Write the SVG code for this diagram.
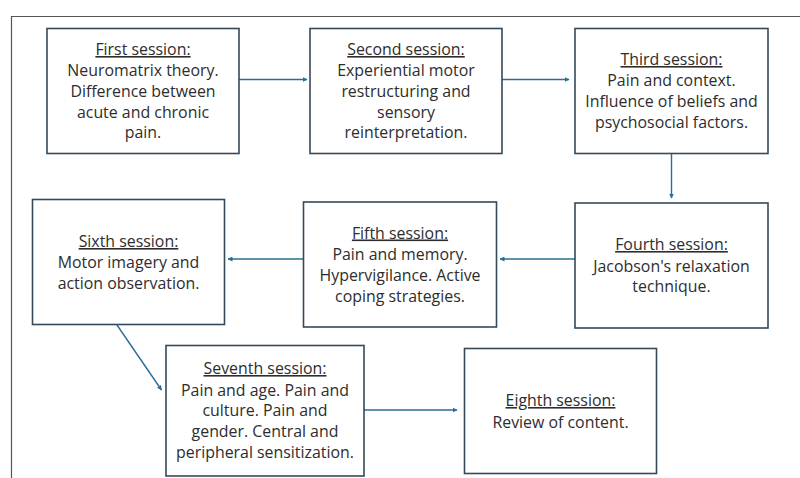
<svg xmlns="http://www.w3.org/2000/svg" width="800" height="478" viewBox="0 0 800 478">
<defs>
<style>
.box{fill:#fff;stroke:#34495a;stroke-width:1.6}
.t{font-family:"Open Sans","Liberation Sans",sans-serif;font-size:15.9px;fill:#2d2d2d;text-anchor:middle}
.h{text-decoration:underline}
.c{stroke:#2b6d93;stroke-width:1.4;fill:none;marker-end:url(#ah)}
</style>
<marker id="ah" viewBox="0 0 10 10" refX="9" refY="5" markerWidth="5" markerHeight="5" orient="auto" markerUnits="userSpaceOnUse">
<path d="M0,0 L10,5 L0,10 z" fill="#2b6d93"/>
</marker>
</defs>
<rect width="800" height="478" fill="#fff"/>
<path d="M800,16.5 H11.5 V478" fill="none" stroke="#555" stroke-width="1.2"/>
<g id="connectors">
<line class="c" x1="239" y1="79.5" x2="307" y2="79.5"/>
<line class="c" x1="502" y1="79.5" x2="569" y2="79.5"/>
<line class="c" x1="671.5" y1="153" x2="671.5" y2="198"/>
<line class="c" x1="575" y1="259" x2="500" y2="259"/>
<line class="c" x1="303" y1="259" x2="228" y2="259"/>
<line class="c" x1="117" y1="325" x2="161.5" y2="390"/>
<line class="c" x1="364" y1="410" x2="457" y2="410"/>
</g>
<g id="n1">
<rect class="box" x="47" y="28.5" width="192" height="125"/>
<text class="t"><tspan class="h" x="143" y="55">First session:</tspan><tspan x="143" y="76">Neuromatrix theory.</tspan><tspan x="143" y="97">Difference between</tspan><tspan x="143" y="117.5">acute and chronic</tspan><tspan x="143" y="138">pain.</tspan></text>
</g>
<g id="n2">
<rect class="box" x="310" y="28.5" width="192" height="125"/>
<text class="t"><tspan class="h" x="406" y="55">Second session:</tspan><tspan x="406" y="76">Experiential motor</tspan><tspan x="406" y="97">restructuring and</tspan><tspan x="406" y="117.5">sensory</tspan><tspan x="406" y="138">reinterpretation.</tspan></text>
</g>
<g id="n3">
<rect class="box" x="575" y="28.5" width="193" height="125"/>
<text class="t"><tspan class="h" x="671.5" y="65">Third session:</tspan><tspan x="671.5" y="86">Pain and context.</tspan><tspan x="671.5" y="107">Influence of beliefs and</tspan><tspan x="671.5" y="128">psychosocial factors.</tspan></text>
</g>
<g id="n4">
<rect class="box" x="575" y="203" width="193" height="125"/>
<text class="t"><tspan class="h" x="671.5" y="250">Fourth session:</tspan><tspan x="671.5" y="271.5">Jacobson's relaxation</tspan><tspan x="671.5" y="292">technique.</tspan></text>
</g>
<g id="n5">
<rect class="box" x="303.5" y="202" width="193" height="125"/>
<text class="t"><tspan class="h" x="400" y="238.5">Fifth session:</tspan><tspan x="400" y="260">Pain and memory.</tspan><tspan x="400" y="281">Hypervigilance. Active</tspan><tspan x="400" y="302">coping strategies.</tspan></text>
</g>
<g id="n6">
<rect class="box" x="32.5" y="199.5" width="192" height="125"/>
<text class="t"><tspan class="h" x="128.5" y="247">Sixth session:</tspan><tspan x="128.5" y="267.5">Motor imagery and</tspan><tspan x="128.5" y="288.5">action observation.</tspan></text>
</g>
<g id="n7">
<rect class="box" x="166" y="345.5" width="198" height="130.5"/>
<text class="t"><tspan class="h" x="265" y="374">Seventh session:</tspan><tspan x="265" y="395.5">Pain and age. Pain and</tspan><tspan x="265" y="416">culture. Pain and</tspan><tspan x="265" y="437">gender. Central and</tspan><tspan x="265" y="458">peripheral sensitization.</tspan></text>
</g>
<g id="n8">
<rect class="box" x="464.5" y="348.5" width="192" height="125"/>
<text class="t"><tspan class="h" x="560.5" y="406">Eighth session:</tspan><tspan x="560.5" y="427.5">Review of content.</tspan></text>
</g>
</svg>
